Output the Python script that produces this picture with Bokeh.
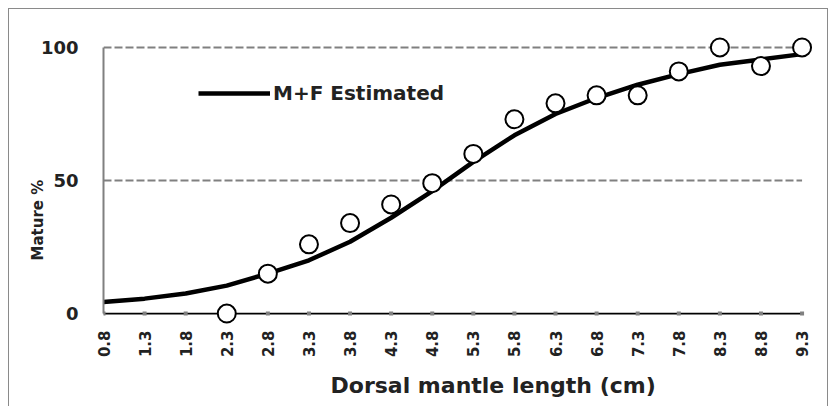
import math
from bokeh.plotting import figure
from bokeh.models import (Range1d, FixedTicker, PrintfTickFormatter, Legend, LegendItem, Title)
from bokeh.embed import file_html
from bokeh.resources import INLINE

# ---- data ----
lengths = [0.8, 1.3, 1.8, 2.3, 2.8, 3.3, 3.8, 4.3, 4.8, 5.3, 5.8, 6.3, 6.8, 7.3, 7.8, 8.3, 8.8, 9.3]
estimated = [4.3, 5.6, 7.5, 10.5, 15, 20, 27, 36, 46, 57, 67, 75, 81, 86, 90, 93.5, 95.5, 97.5]
obs_length = [2.3, 2.8, 3.3, 3.8, 4.3, 4.8, 5.3, 5.8, 6.3, 6.8, 7.3, 7.8, 8.3, 8.8, 9.3]
obs_mature = [0, 15, 26, 34, 41, 49, 60, 73, 79, 82, 82, 91, 100, 93, 100]
y_ticks = [0, 50, 100]
grid_vals = [50, 100]
legend_label = "M+F Estimated"
x_title = "Dorsal mantle length (cm)"
y_title = "Mature %"

FONT = "DejaVu Sans"
TXT = "#222222"

p = figure(width=820, height=398, output_backend="svg", toolbar_location=None,
           x_range=Range1d(0.8, 9.5), y_range=Range1d(-6, 106),
           min_border_left=94, min_border_right=11, min_border_top=22, min_border_bottom=78)
p.styles = {"margin-left": "8px", "margin-top": "8px",
            "border-top": "1px solid #8a8a8a", "border-left": "1px solid #8a8a8a",
            "border-right": "1px solid #8a8a8a"}
p.outline_line_color = None
p.xgrid.visible = False
p.ygrid.visible = False

# dashed reference lines
p.segment(x0=lengths[0], x1=lengths[-1], y0=grid_vals, y1=grid_vals,
          line_color="#808080", line_width=2, line_dash="8 3")
# x axis base line at 0 and its tick marks
p.segment(x0=lengths[0], x1=lengths[-1], y0=y_ticks[0], y1=y_ticks[0],
          line_color="black", line_width=1.7)
p.scatter(lengths, [y_ticks[0]] * len(lengths), marker="square", size=4,
          fill_color="#808080", line_color=None)

# x axis (labels only)
xa = p.xaxis[0]
xa.ticker = FixedTicker(ticks=lengths)
xa.formatter = PrintfTickFormatter(format="%.1f")
xa.major_label_orientation = math.pi / 2
xa.axis_line_color = None
xa.major_tick_line_color = None
xa.major_tick_in = 0
xa.major_tick_out = 0
xa.minor_tick_line_color = None
xa.major_label_text_font = FONT
xa.major_label_text_font_style = "bold"
xa.major_label_text_font_size = "15px"
xa.major_label_text_color = TXT
xa.major_label_standoff = 1

ya = p.yaxis[0]
ya.bounds = (0, 100)
ya.ticker = FixedTicker(ticks=y_ticks)
ya.axis_line_color = "#808080"
ya.axis_line_width = 2
ya.major_tick_line_color = None
ya.major_tick_in = 0
ya.major_tick_out = 0
ya.minor_tick_line_color = None
ya.major_label_text_font = FONT
ya.major_label_text_font_style = "bold"
ya.major_label_text_font_size = "18px"
ya.major_label_text_color = TXT
ya.major_label_standoff = 25

# axis titles
p.add_layout(Title(text=x_title, align="left", offset=227, standoff=20,
                   text_font=FONT, text_font_style="bold", text_font_size="22px",
                   text_color=TXT), "below")
p.add_layout(Title(text=y_title, align="left", offset=69, standoff=-18,
                   text_font=FONT, text_font_style="bold", text_font_size="15px",
                   text_color=TXT), "left")

# estimated curve
r_line = p.line(lengths, estimated, line_color="black", line_width=4.5)

# observed points
p.scatter(obs_length, obs_mature, size=18, marker="circle", fill_color="white",
          line_color="black", line_width=2)

legend = Legend(items=[LegendItem(label=legend_label, renderers=[r_line])],
                location=(95, 224), padding=0, margin=0, spacing=0,
                glyph_width=72, glyph_height=20, label_height=20, label_standoff=3,
                border_line_color=None, background_fill_alpha=0,
                label_text_font=FONT, label_text_font_style="bold",
                label_text_font_size="20px", label_text_color=TXT)
p.add_layout(legend)

open("out.html", "w").write(file_html(p, INLINE))
